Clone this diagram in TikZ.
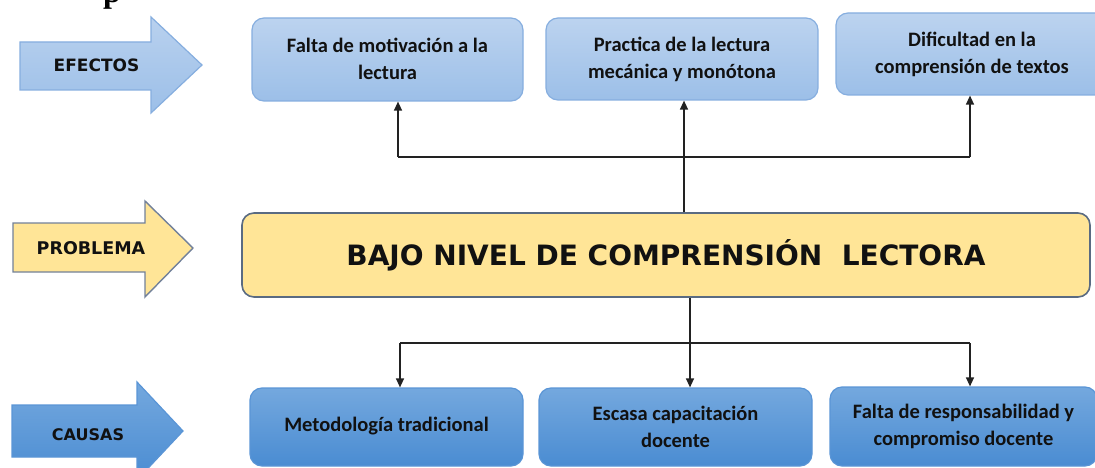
\documentclass[tikz,border=0pt]{standalone}
\usepackage{fontspec}
\setmainfont{Carlito}
\newfontfamily\labfont{DejaVu Sans}
\newfontfamily\serfont{Liberation Serif}
\usetikzlibrary{arrows.meta,calc}
\definecolor{efftop}{HTML}{BCD3EF}
\definecolor{effbot}{HTML}{9CBFE8}
\definecolor{effline}{HTML}{86AEDF}
\definecolor{cautop}{HTML}{74A8DE}
\definecolor{caubot}{HTML}{4A8CD2}
\definecolor{cauline}{HTML}{5A95D6}
\definecolor{probfill}{HTML}{FFE597}
\definecolor{probline}{HTML}{5A6B82}
\definecolor{parline}{HTML}{72819A}
\definecolor{txt}{HTML}{111111}
\definecolor{conn}{HTML}{222222}
\begin{document}
\begin{tikzpicture}[x=1pt,y=-1pt,
  effbox/.style={draw=effline, line width=1.2pt, rounded corners=12pt,
    top color=efftop, bottom color=effbot, text=txt, align=center,
    font=\bfseries\fontsize{20.5}{27}\selectfont, inner sep=0pt},
  caubox/.style={draw=cauline, line width=1.2pt, rounded corners=12pt,
    top color=cautop, bottom color=caubot, text=txt, align=center,
    font=\bfseries\fontsize{20.5}{27}\selectfont, inner sep=0pt},
  probbox/.style={draw=probline, line width=1.6pt, rounded corners=12pt,
    fill=probfill, text=txt, align=center, inner sep=0pt,
    font=\labfont\bfseries\fontsize{28}{34}\selectfont},
  effarrow/.style={draw=effline, line width=1.2pt, top color=efftop!90!effbot, bottom color=effbot, line join=miter},
  probarrow/.style={draw=parline, line width=1.4pt, fill=probfill, line join=miter},
  cauarrow/.style={draw=cauline, line width=1.2pt, top color=cautop, bottom color=caubot, line join=miter},
  arrlabel/.style={text=txt, inner sep=0pt, font=\labfont\bfseries},
  conline/.style={draw=conn, line width=1.3pt},
  conarrow/.style={conline, -{Triangle[length=9pt,width=8pt]}}
]
\useasboundingbox (0,0) rectangle (1095,468);

% heading fragment
\node[anchor=base west, inner sep=0pt, text=black,
  font=\serfont\bfseries\fontsize{32}{32}\selectfont] (hp) at (103,3) {p};

% side arrows
\draw[effarrow] (20,42) -- (151,42) -- (151,17) -- (202,65) -- (151,113) -- (151,90) -- (20,90) -- cycle;
\node[arrlabel, font=\labfont\bfseries\fontsize{17}{20}\selectfont] (lef) at (96.5,65) {EFECTOS};

\draw[probarrow] (13,223) -- (145,223) -- (145,201) -- (193,248) -- (145,297) -- (145,272) -- (13,272) -- cycle;
\node[arrlabel, font=\labfont\bfseries\fontsize{17.5}{20}\selectfont] (lpr) at (91,248) {PROBLEMA};

\draw[cauarrow] (12,405) -- (137,405) -- (137,382) -- (183,431) -- (137,480) -- (137,457) -- (12,457) -- cycle;
\node[arrlabel, font=\labfont\bfseries\fontsize{16}{20}\selectfont] (lca) at (88,435) {CAUSAS};

% effects
\node[effbox, minimum width=271pt, minimum height=83pt] (e1) at (387.5,59.5)
  {\raisebox{2pt}{Falta de motivación a la}\\\raisebox{2pt}{lectura}};
\node[effbox, minimum width=272pt, minimum height=82pt] (e2) at (682,59)
  {Practica de la lectura\\mecánica y monótona};
\node[effbox, minimum width=272pt, minimum height=82pt] (e3) at (972,54)
  {Dificultad en la\\comprensión de textos};

% problem
\node[probbox, minimum width=848pt, minimum height=84pt] (prob) at (666,255)
  {BAJO NIVEL DE COMPRENSIÓN\ \ LECTORA};

% causes
\node[caubox, minimum width=273pt, minimum height=78pt] (c1) at (386.5,427)
  {\raisebox{5pt}{Metodología tradicional}};
\node[caubox, minimum width=273pt, minimum height=78pt] (c2) at (675.5,427)
  {Escasa capacitación\\docente};
\node[caubox, minimum width=267pt, minimum height=79pt] (c3) at (963.5,426.5)
  {Falta de responsabilidad y\\compromiso docente};

% top connectors
\coordinate (ta) at (398,157);
\coordinate (tb) at (684,157);
\coordinate (tc) at (970,157);
\draw[conline] (ta) -- (tc);
\draw[conarrow] (prob.north -| tb) -- (e2.south -| tb);
\draw[conarrow] (ta) -- (e1.south -| ta);
\draw[conarrow] (tc) -- (e3.south -| tc);

% bottom connectors
\coordinate (ba) at (400,343);
\coordinate (bb) at (690,343);
\coordinate (bc) at (970,343);
\draw[conline] (prob.south -| bb) -- (bb);
\draw[conline] (ba) -- (bc);
\draw[conarrow] (ba) -- (c1.north -| ba);
\draw[conarrow] (bb) -- (c2.north -| bb);
\draw[conarrow] (bc) -- (c3.north -| bc);
\end{tikzpicture}
\end{document}
